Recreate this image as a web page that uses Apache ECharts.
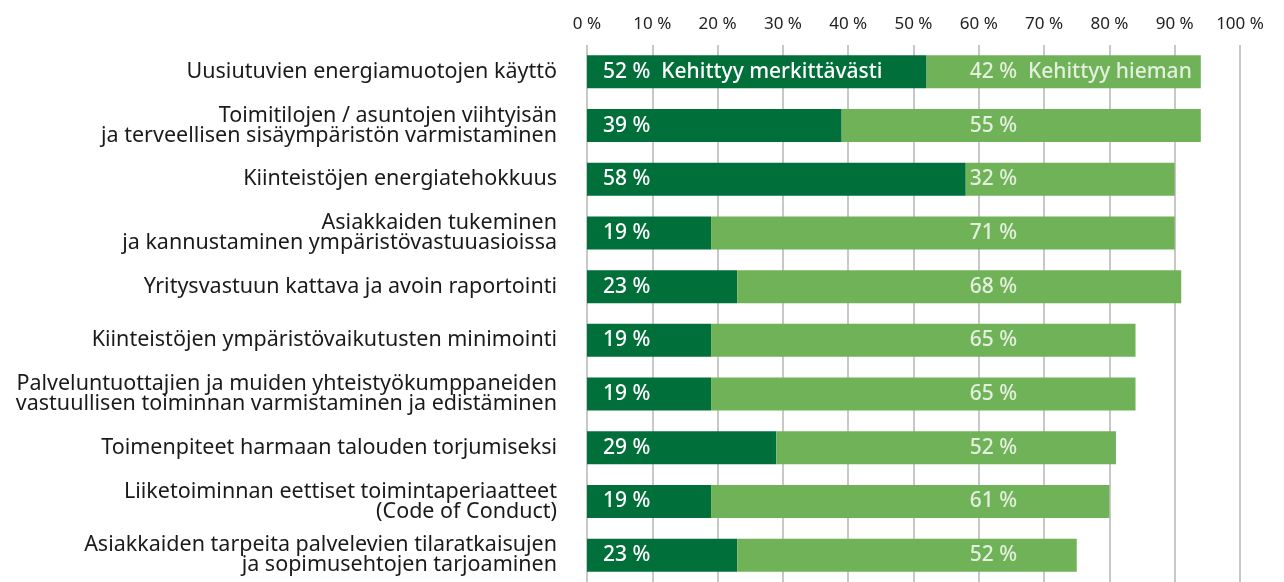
<!DOCTYPE html>
<html>
<head>
<meta charset="utf-8">
<script src="https://cdn.jsdelivr.net/npm/echarts@6/dist/echarts.min.js"></script>
<style>
  html, body { margin: 0; padding: 0; background: #fff; }
  #chart { width: 1284px; height: 582px; }
</style>
</head>
<body>
<div id="chart"></div>
<script>
// kategoriat ylhäältä alas
const categories = [
  'Uusiutuvien energiamuotojen käyttö',
  'Toimitilojen / asuntojen viihtyisän\nja terveellisen sisäympäristön varmistaminen',
  'Kiinteistöjen energiatehokkuus',
  'Asiakkaiden tukeminen\nja kannustaminen ympäristövastuuasioissa',
  'Yritysvastuun kattava ja avoin raportointi',
  'Kiinteistöjen ympäristövaikutusten minimointi',
  'Palveluntuottajien ja muiden yhteistyökumppaneiden\nvastuullisen toiminnan varmistaminen ja edistäminen',
  'Toimenpiteet harmaan talouden torjumiseksi',
  'Liiketoiminnan eettiset toimintaperiaatteet\n(Code of Conduct)',
  'Asiakkaiden tarpeita palvelevien tilaratkaisujen\nja sopimusehtojen tarjoaminen'
];
const merkittavasti = [52, 39, 58, 19, 23, 19, 19, 29, 19, 23];
const hieman = [42, 55, 32, 71, 68, 65, 65, 52, 61, 52];
const seriesNames = ['Kehittyy merkittävästi', 'Kehittyy hieman'];
const xTicks = [0, 10, 20, 30, 40, 50, 60, 70, 80, 90, 100];

// hieman-sarjan tekstit ovat samassa kohdassa joka rivillä
const lightLabelAt = 58.6;

const font = '"Noto Sans", "Open Sans", sans-serif';
const dark = '#006f3a';
const light = '#70b257';

const chart = echarts.init(document.getElementById('chart'));
chart.setOption({
  animation: false,
  grid: { left: 587, right: 44, top: 45, height: 540 },
  xAxis: {
    type: 'value',
    position: 'top',
    min: 0,
    max: 100,
    interval: 10,
    axisLine: { show: false },
    axisTick: { show: false },
    axisLabel: {
      margin: 12,
      fontFamily: font,
      fontSize: 17,
      color: '#222',
      formatter: v => xTicks.includes(v) ? v + ' %' : ''
    },
    splitLine: { lineStyle: { color: '#c8c8c8', width: 2 } }
  },
  yAxis: {
    type: 'category',
    inverse: true,
    data: categories,
    axisLine: { show: false },
    axisTick: { show: false },
    axisLabel: {
      margin: 30,
      fontFamily: font,
      fontSize: 21.5,
      lineHeight: 20,
      color: '#1a1a1a'
    }
  },
  series: [
    {
      name: seriesNames[0],
      type: 'bar',
      stack: 'total',
      barWidth: 33,
      itemStyle: { color: dark },
      data: merkittavasti,
      label: {
        show: true,
        position: 'insideLeft',
        distance: 16,
        color: '#fff',
        fontFamily: font,
        fontSize: 21,
        fontWeight: 500,
        formatter: p => p.dataIndex === 0 ? p.value + ' %  ' + seriesNames[0] : p.value + ' %'
      }
    },
    {
      name: seriesNames[1],
      type: 'bar',
      stack: 'total',
      barWidth: 33,
      itemStyle: { color: light },
      data: hieman
    },
    {
      type: 'scatter',
      symbolSize: 0,
      silent: true,
      z: 5,
      data: hieman.map((v, i) => [lightLabelAt, i, v]),
      label: {
        show: true,
        position: 'right',
        distance: 0,
        color: '#fff',
        fontFamily: font,
        fontSize: 21,
        fontWeight: 500,
        formatter: p => p.dataIndex === 0 ? p.value[2] + ' %  ' + seriesNames[1] : p.value[2] + ' %'
      }
    }
  ]
});
</script>
</body>
</html>
